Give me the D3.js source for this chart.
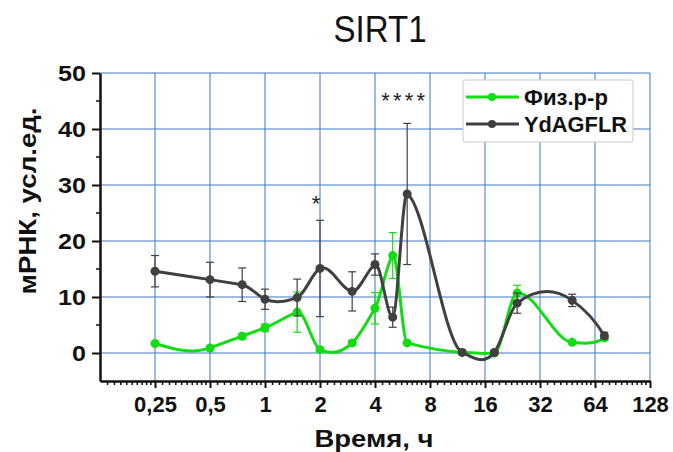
<!DOCTYPE html>
<html>
<head>
<meta charset="utf-8">
<script src="https://cdn.jsdelivr.net/npm/d3@7"></script>
<style>
  body { margin: 0; background: #fff; }
  svg text { font-family: "Liberation Sans", Arial, sans-serif; }
</style>
</head>
<body>
<svg id="chart" width="673" height="452"></svg>
<script>
// time points, hours
var times = [0.25, 0.5, 0.75, 1, 1.5, 2, 3, 4, 5, 6, 12, 18, 24, 48, 72];
// Физ.р-р
var salineMean = [1.7, 0.9, 3.0, 4.5, 7.3, 0.6, 1.8, 8.0, 17.4, 1.8, 0.1, 0.0, 10.7, 1.9, 2.7];
var salineErr  = [0.3, 0.3, 0.5, 0.7, 3.6, 0.3, 0.4, 2.8, 4.1, 0.3, 0.2, 0.2, 1.4, 0.3, 0.4];
// YdAGFLR
var peptideMean = [14.6, 13.1, 12.2, 9.6, 9.9, 15.1, 11.0, 15.8, 6.4, 28.4, 0.1, 0.1, 8.9, 9.4, 3.1];
var peptideErr  = [2.8, 3.1, 3.0, 1.8, 3.3, 8.6, 3.5, 1.9, 1.8, 12.6, 0.3, 0.3, 1.8, 1.1, 0.6];

var xTicks = [0.25, 0.5, 1, 2, 4, 8, 16, 32, 64, 128];
var xTickLabels = ["0,25", "0,5", "1", "2", "4", "8", "16", "32", "64", "128"];
var yTicks = [0, 10, 20, 30, 40, 50];

var seriesNames = ["Физ.р-р", "YdAGFLR"];
var marks = [{x: 2, y: 25.4, text: "*"}, {x: 6, y: 43.8, text: "****"}];

// Akima-type spline through the points (like Origin's spline connect)
function Akima(context) { this._context = context; }
Akima.prototype = {
  areaStart: function() {}, areaEnd: function() {},
  lineStart: function() { this._xs = []; this._ys = []; },
  point: function(x, y) { this._xs.push(+x); this._ys.push(+y); },
  lineEnd: function() {
    var xs = this._xs, ys = this._ys, n = xs.length, c = this._context;
    if (!n) return;
    c.moveTo(xs[0], ys[0]);
    if (n < 3) { for (var k = 1; k < n; k++) c.lineTo(xs[k], ys[k]); return; }
    var m = [];
    for (var i = 0; i < n - 1; i++) m.push((ys[i + 1] - ys[i]) / (xs[i + 1] - xs[i]));
    var mm1 = 2 * m[0] - m[1], mm2 = 2 * mm1 - m[0];
    var mp1 = 2 * m[n - 2] - m[n - 3], mp2 = 2 * mp1 - m[n - 2];
    var ext = [mm2, mm1].concat(m, [mp1, mp2]);   // ext[i+2] = m[i]
    var t = [];
    for (var i = 0; i < n; i++) {
      var a = ext[i], b = ext[i + 1], cc = ext[i + 2], d = ext[i + 3];
      var w1 = Math.abs(d - cc), w2 = Math.abs(b - a);
      t.push(w1 + w2 === 0 ? (b + cc) / 2 : (w1 * b + w2 * cc) / (w1 + w2));
    }
    for (var i = 0; i < n - 1; i++) {
      var h = xs[i + 1] - xs[i];
      c.bezierCurveTo(xs[i] + h / 3, ys[i] + t[i] * h / 3,
                      xs[i + 1] - h / 3, ys[i + 1] - t[i + 1] * h / 3,
                      xs[i + 1], ys[i + 1]);
    }
  }
};

(function() {
  var svg = d3.select("#chart");
  var pLeft = 100, pRight = 650, pTop = 73, pBottom = 381;

  var x = d3.scaleLog().base(2).domain([0.125, 128]).range([pLeft, pRight]);
  var y = d3.scaleLinear().domain([-5, 50]).range([pBottom, pTop]);

  var gridColor = "#3a78b8";
  var colors = ["#14dc14", "#404040"];

  // grid
  svg.append("g").selectAll("line")
    .data(xTicks)
    .enter().append("line")
      .attr("x1", d => x(d)).attr("x2", d => x(d))
      .attr("y1", pTop).attr("y2", pBottom)
      .attr("stroke", gridColor).attr("stroke-width", 1);

  svg.append("g").selectAll("line")
    .data(yTicks)
    .enter().append("line")
      .attr("x1", pLeft).attr("x2", pRight)
      .attr("y1", d => y(d)).attr("y2", d => y(d))
      .attr("stroke", gridColor).attr("stroke-width", 1);

  // minor x ticks
  var minorX = [];
  for (var p = 0.125; p < 128; p *= 2) {
    for (var j = 1; j < 10; j++) minorX.push(p * (1 + j / 10));
  }

  var xAxis = d3.axisBottom(x)
    .tickValues(xTicks)
    .tickFormat((d, i) => xTickLabels[i])
    .tickSizeOuter(0).tickSizeInner(7).tickPadding(8);

  var gx = svg.append("g")
    .attr("transform", "translate(0," + pBottom + ")")
    .call(xAxis);
  gx.selectAll(".tick text")
    .attr("font-size", 22).attr("font-weight", "bold").attr("fill", "#111");
  gx.select(".domain").attr("stroke", "#111").attr("stroke-width", 2.5);
  gx.selectAll(".tick line").attr("stroke", "#111").attr("stroke-width", 2);

  svg.append("g").selectAll("line")
    .data(minorX)
    .enter().append("line")
      .attr("x1", d => x(d)).attr("x2", d => x(d))
      .attr("y1", pBottom).attr("y2", pBottom + 4)
      .attr("stroke", "#111").attr("stroke-width", 1.5);

  var yAxis = d3.axisLeft(y)
    .tickValues(yTicks)
    .tickSizeOuter(0).tickSizeInner(8).tickPadding(6);

  var gy = svg.append("g")
    .attr("transform", "translate(" + pLeft + ",0)")
    .call(yAxis);
  gy.selectAll(".tick text")
    .attr("font-size", 22).attr("font-weight", "bold").attr("fill", "#111")
    .attr("textLength", 28).attr("lengthAdjust", "spacingAndGlyphs");
  gy.selectAll(".tick text").filter(d => d === 0).attr("textLength", 14);
  gy.select(".domain").attr("stroke", "#111").attr("stroke-width", 2.5);
  gy.selectAll(".tick line").attr("stroke", "#111").attr("stroke-width", 2);

  svg.append("g").selectAll("line")
    .data([45, 35, 25, 15, 5])
    .enter().append("line")
      .attr("x1", pLeft - 4).attr("x2", pLeft)
      .attr("y1", d => y(d)).attr("y2", d => y(d))
      .attr("stroke", "#111").attr("stroke-width", 1.5);

  // series
  var series = [
    {name: seriesNames[0], mean: salineMean, err: salineErr, color: colors[0], w: 84},
    {name: seriesNames[1], mean: peptideMean, err: peptideErr, color: colors[1], w: 103}
  ];

  var line = d3.line()
    .x(d => x(d[0]))
    .y(d => y(d[1]))
    .curve(function(ctx) { return new Akima(ctx); });

  series.forEach(function(s) {
    var pts = times.map((t, i) => [t, s.mean[i], s.err[i]]);
    var g = svg.append("g");

    var eb = g.selectAll("g.eb").data(pts).enter().append("g")
      .attr("stroke", s.color).attr("stroke-width", 1.2);
    eb.append("line")
      .attr("x1", d => x(d[0])).attr("x2", d => x(d[0]))
      .attr("y1", d => y(d[1] - d[2])).attr("y2", d => y(d[1] + d[2]));
    eb.append("line")
      .attr("x1", d => x(d[0]) - 4).attr("x2", d => x(d[0]) + 4)
      .attr("y1", d => y(d[1] + d[2])).attr("y2", d => y(d[1] + d[2]));
    eb.append("line")
      .attr("x1", d => x(d[0]) - 4).attr("x2", d => x(d[0]) + 4)
      .attr("y1", d => y(d[1] - d[2])).attr("y2", d => y(d[1] - d[2]));

    g.append("path")
      .datum(pts)
      .attr("d", line)
      .attr("fill", "none")
      .attr("stroke", s.color)
      .attr("stroke-width", 3);

    g.selectAll("circle").data(pts).enter().append("circle")
      .attr("cx", d => x(d[0])).attr("cy", d => y(d[1]))
      .attr("r", 4.5)
      .attr("fill", s.color);
  });

  // significance marks
  svg.append("g").selectAll("text")
    .data(marks)
    .enter().append("text")
      .attr("x", d => x(d.x) - 4)
      .attr("y", d => y(d.y))
      .attr("text-anchor", "middle")
      .attr("font-size", 22)
      .attr("fill", "#222")
      .attr("textLength", d => d.text.length * 11)
      .attr("lengthAdjust", "spacing")
      .text(d => d.text);

  // legend
  var lg = svg.append("g").attr("transform", "translate(463,80)");
  lg.append("rect")
    .attr("width", 170).attr("height", 62).attr("rx", 2)
    .attr("fill", "#fff").attr("stroke", "#c8c8c8");
  series.forEach(function(s, i) {
    var yy = 17 + i * 27;
    lg.append("line").attr("x1", 3).attr("x2", 56).attr("y1", yy).attr("y2", yy)
      .attr("stroke", s.color).attr("stroke-width", 3);
    lg.append("circle").attr("cx", 29).attr("cy", yy).attr("r", 4).attr("fill", s.color);
    lg.append("text").attr("x", 61).attr("y", yy + 8)
      .attr("font-size", 22).attr("font-weight", "bold").attr("fill", "#111")
      .attr("textLength", s.w).attr("lengthAdjust", "spacingAndGlyphs")
      .text(s.name);
  });

  // titles
  svg.append("text")
    .attr("x", 380).attr("y", 42)
    .attr("text-anchor", "middle")
    .attr("font-size", 36)
    .attr("fill", "#111")
    .attr("textLength", 93).attr("lengthAdjust", "spacingAndGlyphs")
    .text("SIRT1");

  svg.append("text")
    .attr("x", 374).attr("y", 447)
    .attr("text-anchor", "middle")
    .attr("font-size", 23).attr("font-weight", "bold").attr("fill", "#111")
    .attr("textLength", 119).attr("lengthAdjust", "spacingAndGlyphs")
    .text("Время, ч");

  svg.append("text")
    .attr("transform", "translate(36,201) rotate(-90)")
    .attr("text-anchor", "middle")
    .attr("font-size", 24).attr("font-weight", "bold").attr("fill", "#111")
    .attr("textLength", 187).attr("lengthAdjust", "spacingAndGlyphs")
    .text("мРНК, усл.ед.");
})();
</script>
</body>
</html>
